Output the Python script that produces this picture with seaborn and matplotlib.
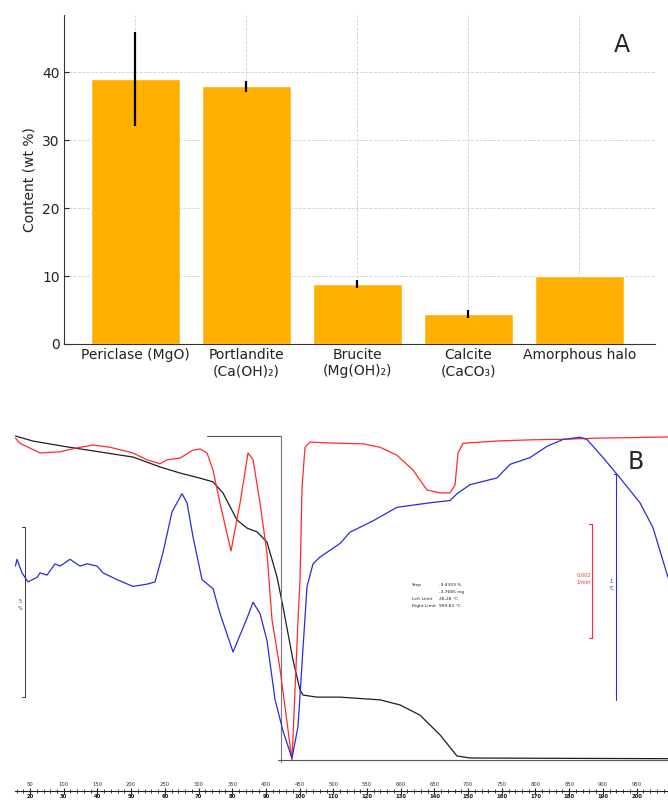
import matplotlib
matplotlib.use("Agg")
import matplotlib.pyplot as plt
from matplotlib.ticker import MultipleLocator
import seaborn as sns

# ---- panel A: phase content (wt %)
phases = ["Periclase (MgO)", "Portlandite\n(Ca(OH)₂)", "Brucite\n(Mg(OH)₂)",
          "Calcite\n(CaCO₃)", "Amorphous halo"]
content = [39.0, 37.9, 8.8, 4.4, 10.0]
content_err = [6.9, 0.8, 0.6, 0.6, 0.0]

# ---- panel B: thermal analysis
# TG, mass in %
tg_temp = [28.3, 54.5, 104.9, 153.9, 202.8, 242.9, 272.6, 302.2, 321.5, 336.4,
           357.1, 372.0, 386.8, 401.6, 416.5, 425.4, 440.2, 450.6, 455.1, 475.8,
           510.0, 569.3, 599.0, 628.6, 658.3, 683.5, 702.8, 836.4, 996.6]
tg_mass = [100.0, 99.85, 99.68, 99.53, 99.38, 99.09, 98.91, 98.76, 98.65, 98.32,
           97.53, 97.29, 97.18, 96.88, 95.85, 94.97, 93.41, 92.53, 92.38, 92.32,
           92.32, 92.24, 92.09, 91.79, 91.21, 90.59, 90.53, 90.52, 90.51]

# DTG, in 1e-3 1/min
dtg_temp = [28.3, 35.2, 64.8, 94.5, 119.7, 143.5, 168.7, 202.8, 223.6, 242.9,
            253.3, 272.6, 291.8, 302.2, 312.6, 321.5, 331.9, 348.2, 361.6, 373.4,
            380.9, 391.3, 401.6, 409.1, 420.9, 438.7, 444.7, 447.6, 450.6, 453.6,
            458.0, 465.4, 510.0, 544.1, 569.3, 594.5, 618.3, 639.0, 658.3, 673.2,
            680.6, 685.0, 692.5, 742.9, 791.9, 840.8, 891.3, 996.6]
dtg_rate = [-0.02, -0.11, -0.28, -0.26, -0.19, -0.14, -0.18, -0.28, -0.40, -0.47,
            -0.40, -0.37, -0.23, -0.21, -0.28, -0.58, -1.16, -2.00, -1.16, -0.28,
            -0.40, -1.16, -2.04, -3.21, -4.07, -5.67, -4.02, -3.21, -2.51, -0.88,
            -0.18, -0.09, -0.11, -0.12, -0.18, -0.32, -0.58, -0.93, -0.98, -0.98,
            -0.84, -0.28, -0.11, -0.07, -0.05, -0.04, -0.02, 0.0]

# DSC, delta T in °C
dsc_temp = [28.3, 30.7, 38.1, 47.0, 60.4, 64.8, 75.2, 87.1, 94.5, 109.3,
            124.2, 134.6, 149.4, 158.3, 179.1, 202.8, 223.6, 235.5, 247.3, 260.7,
            275.5, 282.9, 291.8, 305.2, 321.5, 331.9, 351.2, 372.0, 380.9, 391.3,
            401.6, 413.5, 425.4, 438.7, 447.6, 455.1, 461.0, 469.9, 480.3, 510.0,
            524.8, 558.9, 594.5, 643.5, 673.2, 683.5, 702.8, 742.9, 762.2, 791.9,
            817.1, 840.8, 866.0, 876.4, 900.2, 925.4, 955.0, 974.3, 996.6]
dsc_dt = [0.15, 0.18, 0.12, 0.08, 0.10, 0.12, 0.11, 0.16, 0.15, 0.18,
          0.15, 0.16, 0.15, 0.12, 0.09, 0.06, 0.07, 0.08, 0.21, 0.39,
          0.47, 0.43, 0.28, 0.09, 0.05, -0.06, -0.23, -0.08, -0.01, -0.06,
          -0.18, -0.44, -0.58, -0.70, -0.56, -0.21, 0.06, 0.16, 0.19, 0.25,
          0.30, 0.35, 0.41, 0.43, 0.44, 0.47, 0.51, 0.54, 0.60, 0.63,
          0.68, 0.71, 0.72, 0.71, 0.63, 0.54, 0.43, 0.32, 0.10]

temp_ticks = [50, 100, 150, 200, 250, 300, 350, 400, 450, 500,
              550, 600, 650, 700, 750, 800, 850, 900, 950]
time_ticks = [20, 30, 40, 50, 60, 70, 80, 90, 100, 110,
              120, 130, 140, 150, 160, 170, 180, 190, 200]

step_text = [("Step", "-9,4359 %"), ("", "-3,7685 mg"),
             ("Left Limit", "28,28 °C"), ("Right Limit", "999,82 °C")]

sns.set_style("ticks")
plt.rcParams['font.family'] = ['DejaVu Sans']

W, H = 668, 801
fig = plt.figure(figsize=(W / 100, H / 100), dpi=100)


def box(x0, y0, x1, y1):
    # pixel box (top-left origin) -> figure fraction rect
    return [x0 / W, 1 - y1 / H, (x1 - x0) / W, (y1 - y0) / H]


# ================= A =================
ax = fig.add_axes(box(64, 15, 655, 344))
sns.barplot(x=phases, y=content, color="#ffb000", width=0.8, errorbar=None,
            saturation=1, ax=ax, zorder=2)
ax.errorbar(range(len(phases)), content, yerr=content_err, fmt="none",
            ecolor="black", elinewidth=1.6, capsize=0, zorder=3)
ax.set_xlim(-0.64, 4.68)
ax.set_ylim(0, 48.4)
ax.set_yticks([0, 10, 20, 30, 40])
ax.set_ylabel("Content (wt %)", fontsize=10, color="#222")
ax.grid(True, linestyle="--", color="#d0d0d0", linewidth=0.6)
ax.set_axisbelow(True)
ax.tick_params(direction="in", labelsize=10, colors="#222", pad=3)
for s in ["top", "right"]:
    ax.spines[s].set_visible(False)
for s in ["left", "bottom"]:
    ax.spines[s].set_color("#333")
fig.text(622 / W, 1 - 45 / H, "A", fontsize=17, ha="center", va="center")

# ================= B =================
rect = box(15, 430, 668, 765)
ax_tg = fig.add_axes(rect)
ax_dtg = ax_tg.twinx()
ax_dsc = ax_tg.twinx()
xlim = (27.7, 996.6)
for a in (ax_tg, ax_dtg, ax_dsc):
    a.set_xlim(*xlim)
    a.axis("off")
ax_tg.set_ylim(90.324, 100.176)
ax_dtg.set_ylim(-5.754, 0.1228)
ax_dsc.set_ylim(-0.730, 0.752)

sns.lineplot(x=tg_temp, y=tg_mass, ax=ax_tg, color="#1e1e1e", lw=0.9,
             estimator=None, sort=False)
sns.lineplot(x=dtg_temp, y=dtg_rate, ax=ax_dtg, color="#ff2a2a", lw=0.9,
             estimator=None, sort=False)
sns.lineplot(x=dsc_temp, y=dsc_dt, ax=ax_dsc, color="#2a2ae0", lw=0.9,
             estimator=None, sort=False)

# step evaluation bracket
ax_tg.plot([312.6, 422.4], [100.0, 100.0], color="#555", lw=0.8)
ax_tg.plot([422.4, 422.4], [100.0, 90.41], color="#777", lw=0.8)
ax_tg.plot([418.0, 996.6], [90.47, 90.47], color="#555", lw=0.8)

# scale bars
ax_tg.plot([38.0, 42.6, 42.6, 38.0], [97.32, 97.32, 92.32, 92.32], color="#333", lw=0.7)
ax_tg.text(36.0, 95.03, "5\n%", fontsize=3.6, ha="center", va="center",
           color="#333", linespacing=1.3)
ax_dtg.plot([880.0, 883.8, 883.8, 880.0], [-1.526, -1.526, -3.526, -3.526],
            color="#ff2a2a", lw=0.8)
ax_dtg.text(872.0, -2.49, "0,002\n1/min", fontsize=3.6, ha="center", va="center",
            color="#ff2a2a", linespacing=1.5)
ax_dsc.plot([916.0, 919.5, 919.5], [0.558, 0.558, -0.442], color="#2a2ae0", lw=0.8)
ax_dsc.text(912.0, 0.066, "1\n°C", fontsize=3.6, ha="center", va="center",
            color="#2a2ae0", linespacing=1.5)

# step result text
for i, (lab, val) in enumerate(step_text):
    yy = 95.62 - i * 0.205
    ax_tg.text(616.8, yy, lab, fontsize=3.2, va="center", ha="left", color="#222")
    ax_tg.text(656.8, yy, val, fontsize=3.2, va="center", ha="left", color="#222")

fig.text(636 / W, 1 - 462 / H, "B", fontsize=17, ha="center", va="center")

# temperature / time scale at the bottom
ax_sc = fig.add_axes([15 / W, 1 - 791 / H, 653 / W, 0.0001])
ax_sc.set_xlim(*xlim)
ax_sc.set_yticks([])
for s in ["top", "left", "right"]:
    ax_sc.spines[s].set_visible(False)
ax_sc.spines["bottom"].set_color("#222")
ax_sc.spines["bottom"].set_linewidth(0.8)
ax_sc.set_xticks(temp_ticks, labels=[str(t) for t in temp_ticks])
ax_sc.xaxis.set_minor_locator(MultipleLocator(10))
ax_sc.tick_params(axis="x", which="major", direction="inout", length=4.5, width=0.8,
                  bottom=True, top=False, labelbottom=False, labeltop=True,
                  labelsize=3.8, labelcolor="#333", pad=0.3)
ax_sc.tick_params(axis="x", which="minor", direction="inout", length=3, width=0.6,
                  bottom=True, top=False)
sec = ax_sc.secondary_xaxis("bottom")
sec.set_xticks(temp_ticks, labels=[str(t) for t in time_ticks])
sec.tick_params(length=0, labelsize=3.8, pad=2.5, labelcolor="#111")
for t in sec.get_xticklabels():
    t.set_fontweight("bold")
sec.spines["bottom"].set_visible(False)

fig.savefig("out.png", dpi=100)
